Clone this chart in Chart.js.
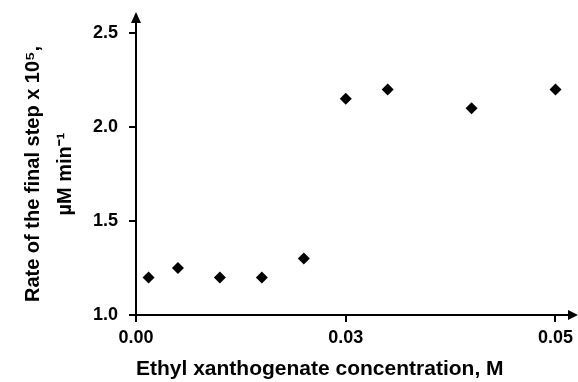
<!DOCTYPE html>
<html>
<head>
<meta charset="utf-8">
<script src="https://cdn.jsdelivr.net/npm/chart.js@4/dist/chart.umd.min.js"></script>
<style>
    html, body { margin: 0; padding: 0; background: #fff; }
    #wrap { width: 578px; height: 382px; }
</style>
</head>
<body>
<div id="wrap"><canvas id="myChart"></canvas></div>
<script>
// Data
const concentrations = [0.0015, 0.005, 0.01, 0.015, 0.02, 0.025, 0.03, 0.04, 0.05];
const rates = [1.2, 1.25, 1.2, 1.2, 1.3, 2.15, 2.2, 2.1, 2.2];

const xTickValues = [0, 0.025, 0.05];
const xTickLabels = ['0.00', '0.03', '0.05'];
const yTickValues = [1.0, 1.5, 2.0, 2.5];
const yTickLabels = ['1.0', '1.5', '2.0', '2.5'];

const xTitle = 'Ethyl xanthogenate concentration, M';
const yTitle = ['Rate of the final step x 10\u2075,', '\u00B5M min\u207B\u00B9'];

const FONT = "'Liberation Sans', Arial, Helvetica, sans-serif";

// Draws the arrow heads at the ends of both axes
const axisArrows = {
    id: 'axisArrows',
    afterDraw(chart) {
        const ctx = chart.ctx;
        const area = chart.chartArea;
        const xAxisY = chart.scales.y.getPixelForValue(1.0);
        const yAxisX = chart.scales.x.getPixelForValue(0);
        ctx.save();
        ctx.strokeStyle = '#000';
        ctx.fillStyle = '#000';
        ctx.lineWidth = 2;

        // extend x axis
        ctx.beginPath();
        ctx.moveTo(area.right, xAxisY);
        ctx.lineTo(571, xAxisY);
        ctx.stroke();
        ctx.beginPath();
        ctx.moveTo(578, xAxisY);
        ctx.lineTo(568, xAxisY - 5);
        ctx.lineTo(568, xAxisY + 5);
        ctx.closePath();
        ctx.fill();

        // extend y axis
        ctx.beginPath();
        ctx.moveTo(yAxisX, area.top);
        ctx.lineTo(yAxisX, 19);
        ctx.stroke();
        ctx.beginPath();
        ctx.moveTo(yAxisX, 12);
        ctx.lineTo(yAxisX - 5, 23);
        ctx.lineTo(yAxisX + 5, 23);
        ctx.closePath();
        ctx.fill();
        ctx.restore();
    }
};

const ctx = document.getElementById('myChart').getContext('2d');
const myChart = new Chart(ctx, {
    type: 'scatter',
    data: {
        datasets: [{
            label: 'Rate',
            data: concentrations.map((c, i) => ({ x: c, y: rates[i] })),
            pointStyle: 'rectRot',
            pointRadius: 6,
            pointHoverRadius: 6,
            backgroundColor: '#000',
            borderColor: '#000',
            borderWidth: 0,
            clip: false
        }]
    },
    options: {
        responsive: true,
        maintainAspectRatio: false,
        animation: false,
        layout: {
            padding: { top: 33, right: 22, bottom: 0, left: 0 }
        },
        scales: {
            x: {
                type: 'linear',
                min: 0,
                max: 0.05,
                afterBuildTicks: axis => { axis.ticks = xTickValues.map(v => ({ value: v })); },
                afterFit: axis => { axis.height = 67; },
                ticks: {
                    color: '#000',
                    padding: 5,
                    maxRotation: 0,
                    font: { family: FONT, size: 18, weight: 'bold' },
                    callback: (value, index) => xTickLabels[index]
                },
                grid: {
                    drawOnChartArea: false,
                    drawTicks: true,
                    tickLength: 7,
                    color: '#000',
                    lineWidth: 2
                },
                border: { display: true, color: '#000', width: 2 },
                title: {
                    display: true,
                    text: xTitle,
                    align: 'start',
                    color: '#000',
                    padding: { top: 0, bottom: 0 },
                    font: { family: FONT, size: 21, weight: 'bold', lineHeight: 1.2 }
                }
            },
            y: {
                type: 'linear',
                min: 1.0,
                max: 2.5,
                afterBuildTicks: axis => { axis.ticks = yTickValues.map(v => ({ value: v })); },
                afterFit: axis => { axis.width = 136; },
                ticks: {
                    color: '#000',
                    padding: 11,
                    font: { family: FONT, size: 18, weight: 'bold' },
                    callback: (value, index) => yTickLabels[index]
                },
                grid: {
                    drawOnChartArea: false,
                    drawTicks: true,
                    tickLength: 7,
                    color: '#000',
                    lineWidth: 2
                },
                border: { display: true, color: '#000', width: 2 },
                title: {
                    display: true,
                    text: yTitle,
                    color: '#000',
                    padding: { top: 17, bottom: 0 },
                    font: { family: FONT, size: 20, weight: 'bold', lineHeight: '32px' }
                }
            }
        },
        plugins: {
            legend: { display: false },
            tooltip: { enabled: false }
        }
    },
    plugins: [axisArrows]
});
</script>
</body>
</html>
